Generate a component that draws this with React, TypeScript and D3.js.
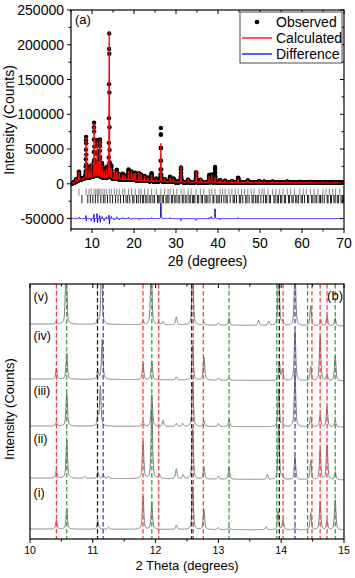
import React from 'react';
import * as d3 from 'd3';

const FONT = "'Liberation Sans', Arial, Helvetica, sans-serif";

// ---------- Panel (a) data ----------
const aXTicks = [10, 20, 30, 40, 50, 60, 70];
const aYTicks = [-50000, 0, 50000, 100000, 150000, 200000, 250000];
const bgAngles = [5, 6, 7, 8, 10, 12, 15, 20, 25, 30, 40, 55, 70];
const bgCounts = [0, 2500, 5500, 7500, 9000, 8500, 7000, 5000, 3500, 2500, 2000, 1600, 1400];
const aPeakPos = [6.2, 6.9, 8.6, 9.3, 9.8, 10.5, 10.9, 11.25, 11.6, 11.9, 12.4, 12.9, 13.4, 14.1, 14.6, 15.3, 15.9, 16.5, 17.3, 17.8, 18.7, 19.4, 19.9, 20.3, 21.2, 21.7, 22.5, 23.3, 24.2, 25.3, 26.4, 27.3, 28.6, 29.4, 31.2, 32.9, 34.8, 35.8, 37.9, 38.5, 39.3, 40.5, 41.7, 43.3, 44.8, 47.1, 49.8, 51.0, 53.0, 56.5, 59.5, 62.0, 65.0, 68.0];
const aPeakInt = [3000, 12000, 59000, 15000, 20000, 78000, 18000, 53000, 22000, 55000, 18000, 10000, 13000, 210000, 15000, 9000, 11000, 9000, 7000, 6000, 13000, 14000, 9000, 11000, 12000, 9000, 7000, 5000, 10000, 4000, 55000, 3500, 6000, 5000, 24000, 3500, 17000, 3500, 9000, 11000, 8000, 4500, 2500, 2000, 5500, 3000, 2000, 1500, 1500, 1500, 1200, 1200, 1000, 1000];
const diffPos = [7.0, 8.55, 8.65, 9.8, 10.45, 10.55, 11.2, 11.3, 11.85, 11.95, 12.4, 12.9, 13.4, 14.05, 14.15, 14.6, 15.3, 15.9, 16.5, 17.3, 18.7, 19.4, 21.2, 24.2, 26.4, 28.6, 31.2, 34.8, 37.9, 38.4, 39.3, 40.5, 44.8];
const diffAmp = [2000, 5000, -4000, -3000, 7000, -6000, 8000, -7000, 5000, -6000, 3000, -3000, 2500, 6000, -9000, 3000, -2000, 2500, -2000, 1500, 2000, -1500, -1500, 1500, 22000, 1500, -3000, -2500, 1500, 3000, 14000, -1500, 1500];
const braggRow1 = [6.9, 8.6, 9.3, 9.8, 10.5, 10.9, 11.25, 11.6, 11.9, 12.4, 12.9, 13.4, 14.1, 14.6, 15.3, 15.9, 16.5, 17.3, 17.8, 18.7, 19.4, 20.3, 21.2, 21.7, 22.5, 23.3, 24.2, 25.3, 26.4, 27.3, 28.1, 28.6, 29.4, 30.2, 31.2, 31.9, 32.9, 33.6, 34.8, 35.8, 36.6, 37.9, 38.5, 39.3, 40.5, 41.1, 41.7, 42.6, 43.3, 44.1, 44.8, 45.6, 46.3, 47.1, 47.9, 48.6, 49.8, 50.5, 51.0, 51.9, 53.0, 53.8, 54.7, 55.5, 56.5, 57.3, 58.2, 59.5, 60.3, 61.0, 62.0, 62.9, 63.8, 65.0, 65.7, 66.5, 67.3, 68.0, 69.0];
const braggRow2 = [7.6, 9.0, 9.6, 10.2, 10.8, 11.4, 12.1, 12.7, 13.1, 13.7, 14.3, 14.9, 15.6, 16.2, 16.8, 17.5, 18.1, 18.5, 19.0, 19.7, 20.0, 20.6, 21.0, 21.5, 22.0, 22.3, 22.8, 23.1, 23.6, 24.0, 24.5, 24.9, 25.6, 25.9, 26.2, 26.7, 27.0, 27.6, 27.9, 28.3, 28.9, 29.2, 29.7, 30.0, 30.5, 30.9, 31.5, 31.7, 32.2, 32.6, 33.1, 33.4, 33.9, 34.2, 34.5, 35.1, 35.4, 36.0, 36.3, 36.9, 37.2, 37.6, 38.1, 38.8, 39.0, 39.6, 40.0, 40.3, 40.8, 41.4, 41.9, 42.2, 42.9, 43.6, 43.9, 44.4, 45.1, 45.4, 45.9, 46.6, 46.9, 47.4, 48.1, 48.4, 48.9, 49.3, 49.6, 50.2, 50.8, 51.3, 51.6, 52.2, 52.5, 53.3, 53.6, 54.1, 54.4, 54.9, 55.2, 55.8, 56.1, 56.8, 57.0, 57.6, 57.9, 58.5, 58.8, 59.2, 59.8, 60.1, 60.6, 61.3, 61.6, 62.3, 62.6, 63.1, 63.5, 64.1, 64.4, 64.8, 65.3, 66.0, 66.2, 66.8, 67.0, 67.6, 67.9, 68.4, 68.7, 69.3, 69.6, 69.9];
const legendLabels = ['Observed', 'Calculated', 'Difference'];

// ---------- Panel (b) data ----------
const bXTicks = [10, 11, 12, 13, 14, 15];
const bLabels = ['(i)', '(ii)', '(iii)', '(iv)', '(v)'];
const bOffsetLeft = [1000, 6100, 11300, 16000, 21500];
const bOffsetRight = [900, 5900, 11200, 15800, 21300];
const tr1Pos = [10.42, 10.585, 11.08, 11.25, 11.80, 11.94, 12.33, 12.59, 12.77, 13.00, 13.17, 13.76, 13.95, 14.03, 14.22, 14.47, 14.62, 14.73, 14.86];
const tr1Int = [900, 2100, 900, 200, 3300, 2700, 400, 4300, 2000, 200, 300, 300, 1800, 1000, 300, 1700, 2800, 1000, 3000];
const tr2Pos = [10.42, 10.585, 10.87, 11.08, 11.165, 11.25, 11.80, 11.94, 12.06, 12.33, 12.44, 12.59, 12.77, 13.00, 13.17, 13.78, 13.96, 14.02, 14.22, 14.47, 14.62, 14.73, 14.86];
const tr2Int = [800, 3800, 200, 700, 400, 200, 3700, 7000, 400, 1000, 400, 5000, 1200, 300, 1200, 500, 5500, 300, 2300, 1900, 3000, 3500, 800];
const tr3Pos = [10.42, 10.585, 11.08, 11.12, 11.80, 11.94, 12.12, 12.33, 12.43, 12.59, 12.77, 13.00, 13.17, 13.96, 14.02, 14.22, 14.47, 14.62, 14.73, 14.86];
const tr3Int = [400, 3300, 1000, 4000, 500, 3200, 600, 300, 300, 4500, 600, 300, 700, 3800, 400, 5500, 1000, 1200, 2000, 600];
const tr4Pos = [10.42, 10.585, 11.08, 11.15, 11.80, 11.94, 12.33, 12.59, 12.77, 13.00, 13.17, 13.97, 14.02, 14.22, 14.47, 14.62, 14.73, 14.86];
const tr4Int = [1100, 2600, 900, 4000, 1600, 1900, 300, 3500, 2300, 200, 200, 1900, 1100, 5000, 1400, 4500, 700, 2500];
const tr5Pos = [10.42, 10.575, 11.08, 11.14, 11.80, 11.93, 12.05, 12.12, 12.33, 12.59, 12.77, 13.00, 13.17, 13.64, 13.80, 13.96, 14.02, 14.22, 14.47, 14.63, 14.73, 14.86];
const tr5Int = [300, 6000, 500, 6000, 400, 6000, 300, 300, 800, 6000, 300, 200, 700, 500, 400, 6000, 400, 6000, 2000, 600, 1000, 800];
const dashRed = [10.42, 11.80, 12.05, 12.60, 12.76, 14.03, 14.49, 14.62, 14.73];
const dashGreen = [10.585, 11.94, 13.17, 13.93, 14.42, 14.86];
const dashBlack = [11.075, 12.575, 13.97];
const dashBlue = [11.165, 14.22];

function pv(x: number, x0: number, h: number, w: number, eta: number) {
  const t = (x - x0) / w;
  return h * (eta / (1 + 4 * t * t) + (1 - eta) * Math.exp(-4 * Math.LN2 * t * t));
}

export default function App() {
  // ----- panel a -----
  const xA = d3.scaleLinear().domain([5, 70]).range([71, 344]);
  const yA = d3.scaleLinear().domain([-65000, 250000]).range([229, 10]);
  const bg = d3.scaleLinear().domain(bgAngles).range(bgCounts);
  const grid = d3.range(5, 70.0001, 0.02);
  const calc = grid.map((x) => {
    let v = bg(x);
    for (let i = 0; i < aPeakPos.length; i++) v += pv(x, aPeakPos[i], aPeakInt[i], 0.1, 0.5);
    return v;
  });
  const diff = grid.map((x) => {
    let v = 0;
    for (let i = 0; i < diffPos.length; i++) v += pv(x, diffPos[i], diffAmp[i], 0.1, 0.5);
    return v;
  });
  const obs = calc.map((c, i) => c + diff[i]);
  const lineA = d3.line<number>().x((_, i) => xA(grid[i])).y((d) => yA(d));
  const calcPath = lineA(calc) || '';
  const diffPath = lineA(diff.map((d) => d - 50000)) || '';

  // ----- panel b -----
  const xB = d3.scaleLinear().domain([10, 15]).range([30, 344]);
  const yB = d3.scaleLinear().domain([0, 25500]).range([539, 284]);
  const gridB = d3.range(10, 15.0001, 0.003);
  const traces = [
    [tr1Pos, tr1Int],
    [tr2Pos, tr2Int],
    [tr3Pos, tr3Int],
    [tr4Pos, tr4Int],
    [tr5Pos, tr5Int],
  ];
  const tracePaths = traces.map(([pos, ints], k) => {
    const vals = gridB.map((x) => {
      let v = bOffsetLeft[k] + (bOffsetRight[k] - bOffsetLeft[k]) * (x - 10) / 5;
      for (let i = 0; i < pos.length; i++) v += pv(x, pos[i], ints[i], 0.028, 0.6);
      return v;
    });
    return d3.line<number>().x((_, i) => xB(gridB[i])).y((d) => yB(d))(vals) || '';
  });
  const dashGroups: [number[], string][] = [
    [dashBlack, '#111111'],
    [dashBlue, '#2a3ad0'],
    [dashGreen, '#23a023'],
    [dashRed, '#ff3030'],
  ];
  const labelY = [492, 438, 390, 335, 296];

  const minorA = d3.range(5, 70.001, 5);
  const minorAY = d3.range(-50000, 250001, 25000);
  const minorB = d3.range(10, 15.001, 0.5);

  return (
    <svg width={355} height={578} style={{ position: 'absolute', left: 0, top: 0, background: '#fff' }} fontFamily={FONT}>
      <defs>
        <clipPath id="clipA"><rect x={71} y={10} width={273} height={219} /></clipPath>
        <clipPath id="clipB"><rect x={30} y={284} width={314} height={255} /></clipPath>
      </defs>
      {/* ===== Panel (a) ===== */}
      <g clipPath="url(#clipA)">
        {obs.map((v, i) => (
          <circle key={i} cx={xA(grid[i])} cy={yA(v)} r={2.2} fill="#000" />
        ))}
        <path d={calcPath} fill="none" stroke="#ff0000" strokeWidth={1.3} />
        {braggRow1.map((p, i) => (
          <line key={'r1' + i} x1={xA(p)} x2={xA(p)} y1={yA(-7000)} y2={yA(-17000)} stroke="#666" strokeWidth={0.8} />
        ))}
        {braggRow2.map((p, i) => (
          <line key={'r2' + i} x1={xA(p)} x2={xA(p)} y1={yA(-16000)} y2={yA(-28000)} stroke="#000" strokeWidth={0.9} />
        ))}
        <path d={diffPath} fill="none" stroke="#0000ff" strokeWidth={1} />
      </g>
      <rect x={71} y={10} width={273} height={219} fill="none" stroke="#000" strokeWidth={1.2} />
      {minorA.map((t) => {
        const major = t % 10 === 0;
        return (
          <g key={'ta' + t}>
            <line x1={xA(t)} x2={xA(t)} y1={229} y2={229 + (major ? 4 : 2.5)} stroke="#000" />
            <line x1={xA(t)} x2={xA(t)} y1={10} y2={10 + (major ? 4 : 2.5)} stroke="#000" />
          </g>
        );
      })}
      {minorAY.map((t) => {
        const major = t % 50000 === 0;
        return (
          <g key={'tay' + t}>
            <line x1={71} x2={71 - (major ? 4 : 2.5)} y1={yA(t)} y2={yA(t)} stroke="#000" />
            <line x1={344} x2={344 - (major ? 4 : 2.5)} y1={yA(t)} y2={yA(t)} stroke="#000" />
          </g>
        );
      })}
      {aXTicks.map((t) => (
        <text key={'xa' + t} x={xA(t)} y={247.5} fontSize={14} textAnchor="middle">{t}</text>
      ))}
      {aYTicks.map((t) => (
        <text key={'ya' + t} x={64} y={yA(t) + 5} fontSize={14} textAnchor="end">{t}</text>
      ))}
      <text x={207.5} y={266} fontSize={14} textAnchor="middle">2θ (degrees)</text>
      <text transform="translate(14,120) rotate(-90)" fontSize={14} textAnchor="middle">Intensity (Counts)</text>
      <text x={75} y={23.5} fontSize={13}>(a)</text>
      <rect x={240} y={12} width={102} height={51} fill="#fff" stroke="#222" strokeWidth={0.8} />
      <circle cx={257} cy={22} r={2.3} fill="#000" />
      <line x1={242} x2={272} y1={38} y2={38} stroke="#ff0000" strokeWidth={1.3} />
      <line x1={242} x2={272} y1={54} y2={54} stroke="#0000ff" strokeWidth={1.3} />
      {legendLabels.map((l, i) => (
        <text key={l} x={276} y={27 + i * 16.2} fontSize={14}>{l}</text>
      ))}

      {/* ===== Panel (b) ===== */}
      <g clipPath="url(#clipB)">
        {tracePaths.map((d, i) => (
          <path key={'tr' + i} d={d} fill="none" stroke="#7a7a7a" strokeWidth={1} />
        ))}
        {dashGroups.map(([arr, col], gi) =>
          arr.map((p, i) => (
            <line key={'d' + gi + '-' + i} x1={xB(p)} x2={xB(p)} y1={284} y2={539} stroke={col} strokeWidth={1.2} strokeDasharray="4.5,2.5" />
          ))
        )}
      </g>
      <rect x={30} y={284} width={314} height={255} fill="none" stroke="#000" strokeWidth={1.2} />
      {minorB.map((t) => {
        const major = Math.abs(t - Math.round(t)) < 1e-6;
        return (
          <g key={'tb' + t}>
            <line x1={xB(t)} x2={xB(t)} y1={539} y2={539 + (major ? 4 : 2.5)} stroke="#000" />
            <line x1={xB(t)} x2={xB(t)} y1={284} y2={284 + (major ? 4 : 2.5)} stroke="#000" />
          </g>
        );
      })}
      {bXTicks.map((t) => (
        <text key={'xb' + t} x={xB(t)} y={554} fontSize={10.5} textAnchor="middle">{t}</text>
      ))}
      <text x={187} y={569.5} fontSize={13} textAnchor="middle">2 Theta (degrees)</text>
      <text transform="translate(14,409) rotate(-90)" fontSize={13} textAnchor="middle">Intensity (Counts)</text>
      {bLabels.map((l, i) => (
        <text key={l} x={33.5} y={labelY[i] + 4.5} fontSize={12.5}>{l}</text>
      ))}
      <text x={343} y={300} fontSize={13} textAnchor="end">(b)</text>
    </svg>
  );
}
